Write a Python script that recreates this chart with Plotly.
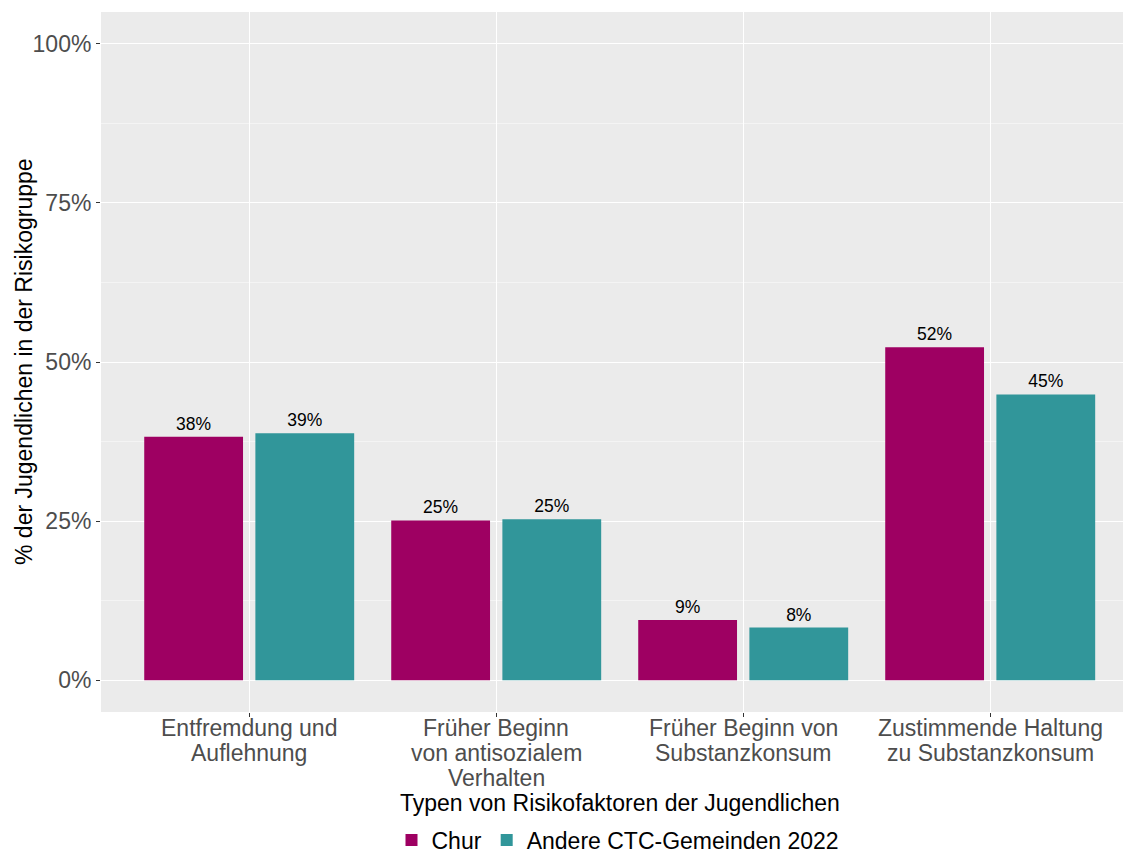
import plotly.graph_objects as go

categories = [
    "Entfremdung und<br>Auflehnung",
    "Früher Beginn<br>von antisozialem<br>Verhalten",
    "Früher Beginn von<br>Substanzkonsum",
    "Zustimmende Haltung<br>zu Substanzkonsum",
]
chur = [0.3825, 0.251, 0.0946, 0.523]
andere = [0.388, 0.253, 0.0827, 0.449]
series_names = ["Chur", "Andere CTC-Gemeinden 2022"]
colors = ["#9E0062", "#31969A"]
y_ticks = [0, 0.25, 0.5, 0.75, 1.0]
y_ticklabels = ["0%", "25%", "50%", "75%", "100%"]
x_title = "Typen von Risikofaktoren der Jugendlichen"
y_title = "% der Jugendlichen in der Risikogruppe"

FONT = "Liberation Sans, Arial, sans-serif"
PANEL_TOP, PANEL_H = 12, 700   # screen pixels


def py(screen_y):
    return (PANEL_TOP + PANEL_H - screen_y) / PANEL_H


fig = go.Figure()
for name, vals, col, off in [(series_names[0], chur, colors[0], -0.425),
                             (series_names[1], andere, colors[1], 0.025)]:
    fig.add_trace(go.Bar(
        x=categories, y=vals, name=name, marker_color=col,
        marker_line_width=0, width=0.4, offset=off,
        texttemplate="%{y:.0%}", textposition="outside",
        textfont=dict(size=17.5, color="black", family=FONT),
        cliponaxis=False,
    ))

annotations = []
# category tick labels with tighter line spacing (ggplot style)
for i, cat in enumerate(categories):
    for j, line in enumerate(cat.split("<br>")):
        annotations.append(dict(
            text=line, xref="x", yref="paper", x=i, y=py(728 + 25 * j),
            xanchor="center", yanchor="middle", showarrow=False,
            font=dict(size=23, color="#4D4D4D")))
annotations.append(dict(text=x_title, xref="paper", yref="paper",
                        x=(620 - 101) / 1030, y=py(803), xanchor="center", yanchor="middle",
                        showarrow=False, font=dict(size=23, color="black")))
annotations.append(dict(text=y_title, xref="paper", yref="paper",
                        x=(24 - 101) / 1030, y=py(362), xanchor="center", yanchor="middle",
                        textangle=-90, showarrow=False, font=dict(size=23, color="black")))

fig.update_layout(
    width=1123, height=845,
    margin=dict(l=93, r=0, t=4, b=141, autoexpand=False),
    paper_bgcolor="white", plot_bgcolor="#EBEBEB",
    font=dict(family=FONT, size=23, color="#4D4D4D"),
    barmode="overlay",
    showlegend=True,
    legend=dict(orientation="h", x=(618 - 101) / 1030, xanchor="center", y=py(840),
                yanchor="middle", font=dict(size=23, color="black"),
                itemwidth=30, traceorder="normal", tracegroupgap=0),
    xaxis=dict(range=[-0.6, 3.57], showgrid=True, gridcolor="white", gridwidth=1.2,
               ticks="outside", ticklen=4, tickcolor="#333333", zeroline=False,
               showticklabels=False),
    yaxis=dict(range=[-0.05, 1.05], tickvals=y_ticks, ticktext=y_ticklabels,
               showgrid=True, gridcolor="white", gridwidth=1.2, zeroline=False,
               ticks="outside", ticklen=4, tickcolor="#333333",
               tickfont=dict(size=23, color="#4D4D4D"),
               minor=dict(tickvals=[0.125, 0.375, 0.625, 0.875], showgrid=True,
                          gridcolor="#F4F4F4", gridwidth=0.6, ticks="")),
    annotations=annotations,
)

fig.write_html("out.html")
